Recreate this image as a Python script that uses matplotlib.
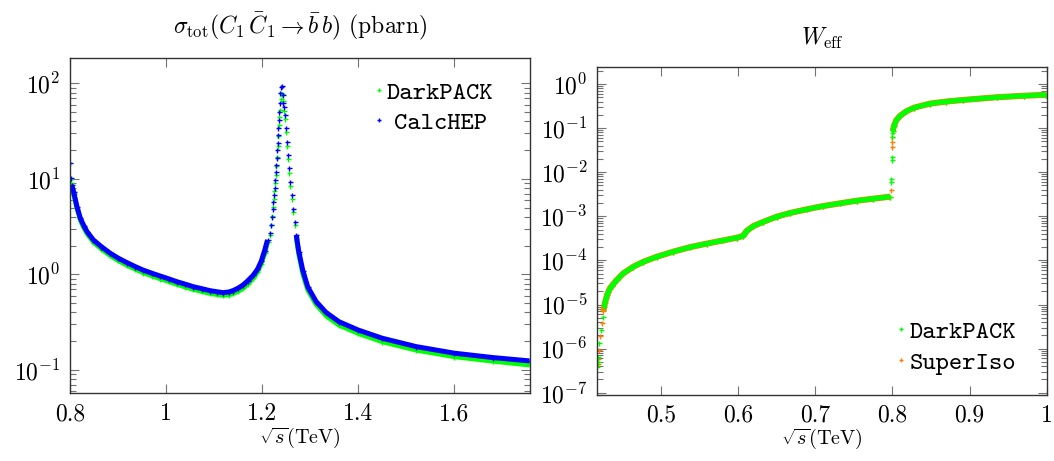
import numpy as np
import matplotlib
matplotlib.use("Agg")
import matplotlib.pyplot as plt
from matplotlib.font_manager import FontProperties
from matplotlib.ticker import LogLocator, NullFormatter

plt.rcParams.update({
    "font.family": "serif",
    "font.serif": ["cmr10"],
    "mathtext.fontset": "cm",
    "axes.formatter.use_mathtext": True,
})

# ---------------- Left panel: sigma_tot(C1 C1bar -> b bbar) ----------------
calchep_x = [0.8000, 0.8010, 0.803, 0.807, 0.814, 0.821, 0.828, 0.835, 0.848, 0.865,
             0.883, 0.900, 0.918, 0.935, 0.952, 0.970, 0.987, 1.005, 1.022, 1.040,
             1.056, 1.074, 1.091, 1.105, 1.118, 1.130, 1.139, 1.150, 1.160, 1.170,
             1.181, 1.190, 1.198, 1.205, 1.211,
             1.2154, 1.2175, 1.2195, 1.2216, 1.2230, 1.2243, 1.2258, 1.2272, 1.2285,
             1.2293, 1.2306, 1.2314, 1.2320, 1.2327, 1.2334, 1.2341, 1.2347, 1.2362,
             1.2380, 1.2395, 1.2410, 1.2425, 1.2440, 1.2451, 1.2480, 1.2500, 1.2513,
             1.2534, 1.2555, 1.2584, 1.2611, 1.2638, 1.2673, 1.2708,
             1.2762, 1.2845, 1.2949, 1.3124, 1.333, 1.360, 1.400, 1.450, 1.520,
             1.600, 1.680, 1.757]
calchep_y = [14.6, 10.2, 8.6, 7.3, 5.1, 3.87, 3.25, 2.8, 2.30, 1.95,
             1.67, 1.48, 1.33, 1.21, 1.11, 1.03, 0.964, 0.90, 0.84, 0.79,
             0.745, 0.71, 0.677, 0.66, 0.645, 0.655, 0.677, 0.72, 0.776, 0.86,
             0.98, 1.13, 1.38, 1.78, 2.3,
             2.7, 3.3, 4.0, 4.9, 5.8, 6.8, 7.95, 9.7, 11.9,
             14.0, 16.4, 20.0, 23.5, 28.8, 33.8, 41.0, 50.5, 62.0,
             80.0, 92.0, 94.0, 75.0, 62.0, 57.0, 46.5, 34.0, 24.5,
             17.8, 12.9, 9.3, 6.8, 4.9, 3.56, 2.59,
             1.73, 1.1, 0.74, 0.52, 0.40, 0.32, 0.262, 0.215, 0.176,
             0.150, 0.135, 0.1245]

darkpack_l_x = [0.8005, 0.802, 0.804, 0.807, 0.814, 0.821, 0.828, 0.835, 0.848, 0.865,
                0.883, 0.900, 0.918, 0.935, 0.952, 0.970, 0.987, 1.005, 1.022, 1.040,
                1.056, 1.074, 1.091, 1.105, 1.118, 1.130, 1.139, 1.150, 1.160, 1.170,
                1.181, 1.190, 1.198, 1.205, 1.211,
                1.2160, 1.2185, 1.2205, 1.2225, 1.2240, 1.2255, 1.2268, 1.2282, 1.2296,
                1.2310, 1.2322, 1.2332, 1.2343, 1.2352, 1.2366, 1.2385, 1.2400, 1.2415,
                1.2435, 1.2455, 1.2482, 1.2502, 1.2518, 1.2538, 1.2560, 1.2588, 1.2615,
                1.2642, 1.2678, 1.2712,
                1.2762, 1.2845, 1.2949, 1.3124, 1.333, 1.360, 1.400, 1.450, 1.520,
                1.600, 1.680, 1.757]
darkpack_l_y = [10.0, 9.0, 7.8, 7.0, 4.9, 3.7, 3.1, 2.68, 2.19, 1.85,
                1.58, 1.40, 1.25, 1.14, 1.045, 0.97, 0.905, 0.845, 0.79, 0.74,
                0.70, 0.665, 0.635, 0.618, 0.605, 0.612, 0.632, 0.67, 0.72, 0.80,
                0.91, 1.06, 1.30, 1.66, 2.2,
                2.6, 3.3, 4.1, 5.1, 6.2, 7.4, 9.0, 11.0, 13.5,
                17.0, 22.0, 28.0, 37.0, 45.0, 53.0, 68.0, 79.0, 78.0,
                65.0, 52.0, 42.0, 31.0, 22.0, 16.0, 11.5, 8.4, 6.2,
                4.5, 3.3, 2.4,
                1.63, 1.02, 0.69, 0.485, 0.37, 0.295, 0.242, 0.198, 0.162,
                0.138, 0.124, 0.113]

# ---------------- Right panel: W_eff ----------------
darkpack_r_x = [0.4179, 0.4185, 0.4192, 0.4205, 0.4223, 0.4249, 0.4266, 0.4292, 0.4321,
                0.4365, 0.443, 0.4516, 0.4645, 0.4775, 0.4948, 0.5163, 0.538, 0.5596,
                0.5811, 0.5985, 0.6062, 0.6085, 0.6114, 0.620, 0.6329, 0.6503, 0.6675,
                0.6891, 0.7106, 0.7323, 0.7539, 0.7754, 0.7975,
                0.7985, 0.7987, 0.7992, 0.7994, 0.7999, 0.8001,
                0.8005, 0.802, 0.805, 0.810, 0.818, 0.828, 0.849, 0.870, 0.892, 0.935,
                0.970, 0.9995]
darkpack_r_y = [3.9e-7, 5.0e-7, 6.6e-7, 1.32e-6, 2.6e-6, 5.3e-6, 8.9e-6, 1.38e-5, 1.95e-5,
                2.63e-5, 3.6e-5, 5.1e-5, 7.2e-5, 9.3e-5, 1.21e-4, 1.58e-4, 2.0e-4, 2.4e-4,
                2.85e-4, 3.27e-4, 3.57e-4, 4.0e-4, 4.7e-4, 6.0e-4, 7.5e-4, 9.8e-4, 1.19e-3,
                1.44e-3, 1.71e-3, 1.97e-3, 2.26e-3, 2.51e-3, 2.8e-3,
                6.1e-3, 7.2e-3, 1.9e-2, 2.25e-2, 6.2e-2, 7.6e-2,
                0.085, 0.11, 0.15, 0.19, 0.24, 0.29, 0.36, 0.40, 0.435, 0.50,
                0.54, 0.57]

superiso_x = [0.4182, 0.4188, 0.4198, 0.4214, 0.4236, 0.4257, 0.4279, 0.4306, 0.4340,
              0.4365, 0.443, 0.4516, 0.4645, 0.4775, 0.4948, 0.5163, 0.538, 0.5596,
              0.5811, 0.5985, 0.6062, 0.6085, 0.6114, 0.620, 0.6329, 0.6503, 0.6675,
              0.6891, 0.7106, 0.7323, 0.7539, 0.7754, 0.7975,
              0.7983, 0.7996, 0.7998, 0.8000,
              0.8005, 0.802, 0.805, 0.810, 0.818, 0.828, 0.849, 0.870, 0.892, 0.935,
              0.970, 0.9995]
superiso_y = [4.5e-7, 5.8e-7, 9.5e-7, 1.9e-6, 3.8e-6, 7.0e-6, 1.1e-5, 1.65e-5, 2.3e-5,
              2.63e-5, 3.6e-5, 5.1e-5, 7.2e-5, 9.3e-5, 1.21e-4, 1.58e-4, 2.0e-4, 2.4e-4,
              2.85e-4, 3.27e-4, 3.57e-4, 4.0e-4, 4.7e-4, 6.0e-4, 7.5e-4, 9.8e-4, 1.19e-3,
              1.44e-3, 1.71e-3, 1.97e-3, 2.26e-3, 2.51e-3, 2.8e-3,
              3.9e-3, 3.66e-2, 4.9e-2, 6.2e-2,
              0.085, 0.11, 0.15, 0.19, 0.24, 0.29, 0.36, 0.40, 0.435, 0.50,
              0.54, 0.57]

GREEN = "#00ff00"
BLUE = "#0000ff"
ORANGE = "#ff8000"

fig = plt.figure(figsize=(10.54, 4.61), dpi=100)
axL = fig.add_axes([0.0667, 0.1465, 0.4357, 0.7270])
axR = fig.add_axes([0.5667, 0.1432, 0.4264, 0.7108])

MS = 3.6
MEW = 1.0
BAND = 3.6


def band(ax, x, y, color, lw, ms, smooth_ranges):
    """Markers for every sample; a thick stroke only where samples are dense."""
    x = np.asarray(x)
    y = np.asarray(y)
    for lo, hi in smooth_ranges:
        m = (x >= lo) & (x <= hi)
        ax.plot(x[m], y[m], color=color, lw=lw, solid_capstyle="butt", zorder=2)
    ax.plot(x, y, ls="none", marker="+", ms=ms, mew=MEW, color=color, zorder=2)


# left
band(axL, darkpack_l_x, darkpack_l_y, GREEN, BAND, MS, [(0.802, 1.211), (1.2712, 2.0)])
band(axL, calchep_x, calchep_y, BLUE, BAND, MS, [(0.803, 1.211), (1.2708, 2.0)])
axL.plot([], [], ls="none", marker="+", ms=MS, mew=MEW, color=GREEN, label="DarkPACK")
axL.plot([], [], ls="none", marker="+", ms=MS, mew=MEW, color=BLUE, label="CalcHEP")
axL.set_yscale("log")
axL.set_xlim(0.8, 1.757)
axL.set_ylim(0.0568, 183)
axL.set_xticks([0.8, 1.0, 1.2, 1.4, 1.6])
axL.set_xticklabels(["0.8", "1", "1.2", "1.4", "1.6"])
axL.set_title(r"$\sigma_{\mathrm{tot}}(C_1\,\bar{C}_1 \to \bar{b}\,b)$ (pbarn)", fontsize=17, pad=18)

# right
band(axR, superiso_x, superiso_y, ORANGE, BAND + 0.8, MS, [(0.4257, 0.7975), (0.8005, 1.1)])
band(axR, darkpack_r_x, darkpack_r_y, GREEN, BAND, MS, [(0.4266, 0.7975), (0.8005, 1.1)])
axR.plot([], [], ls="none", marker="+", ms=MS, mew=MEW, color=GREEN, label="DarkPACK")
axR.plot([], [], ls="none", marker="+", ms=MS, mew=MEW, color=ORANGE, label="SuperIso")
axR.set_yscale("log")
axR.set_xlim(0.4179, 1.0)
axR.set_ylim(8.9e-8, 2.39)
axR.set_xticks([0.5, 0.6, 0.7, 0.8, 0.9, 1.0])
axR.set_xticklabels(["0.5", "0.6", "0.7", "0.8", "0.9", "1"])
axR.set_title(r"$W_{\mathrm{eff}}$", fontsize=17, pad=16)

for ax in (axL, axR):
    ax.yaxis.set_major_locator(LogLocator(base=10, numticks=30))
    ax.yaxis.set_minor_locator(LogLocator(base=10, subs=np.arange(2, 10), numticks=30))
    ax.yaxis.set_minor_formatter(NullFormatter())
    ax.set_xlabel(r"$\sqrt{s}$(TeV)", fontsize=14.5, labelpad=0)
    ax.tick_params(which="both", direction="in", top=True, right=True,
                   color="0.45", width=0.8, labelsize=17, pad=7)
    ax.tick_params(which="major", length=6.5)
    ax.tick_params(which="minor", length=4.3)
    ax.tick_params(axis="x", which="minor", bottom=False, top=False)
    for s in ax.spines.values():
        s.set_color("0.2")
        s.set_linewidth(1.0)

tt = FontProperties(family="cmtt10", size=18.3)
legL = axL.legend(loc="upper left", bbox_to_anchor=(0.661, 0.933), frameon=False, prop=tt,
                  handlelength=0.4, handletextpad=0.12, labelspacing=0.26, borderpad=0,
                  borderaxespad=0, markerscale=0.8)
# entries are centred under one another in the reference (monospace: half a glyph)
legL.get_texts()[1].set_position((6.5, 0))
axR.legend(loc="upper left", bbox_to_anchor=(0.665, 0.2275), frameon=False, prop=tt,
           handlelength=0.4, handletextpad=0.12, labelspacing=0.26, borderpad=0,
           borderaxespad=0, markerscale=0.8)

fig.savefig("out.png", dpi=100)
